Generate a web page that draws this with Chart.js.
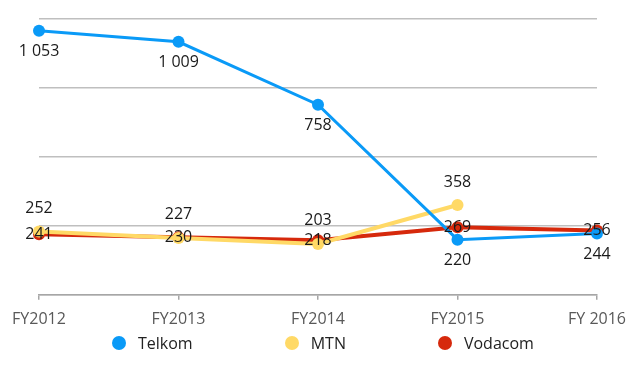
<!DOCTYPE html>
<html>
<head>
<meta charset="utf-8">
<script src="https://cdn.jsdelivr.net/npm/chart.js@4/dist/chart.umd.min.js"></script>
<style>
  html, body { margin: 0; padding: 0; background: #fff; }
  #wrap { position: relative; width: 640px; height: 375px; }
  #legend {
    position: absolute; left: 112px; top: 333px;
    display: flex; gap: 92px;
    font: 16px "Open Sans", sans-serif; color: #222;
  }
  #legend .item { display: flex; align-items: center; height: 20px; }
  #legend .dot { width: 14px; height: 14px; border-radius: 50%; margin-right: 12px; }
</style>
</head>
<body>
<div id="wrap">
  <canvas id="chart" width="640" height="375"></canvas>
  <div id="legend"></div>
</div>
<script>
const categories = ["FY2012", "FY2013", "FY2014", "FY2015", "FY 2016"];
const seriesNames = ["Telkom", "MTN", "Vodacom"];
const telkom = [1053, 1009, 758, 220, 244];
const mtn = [252, 227, 203, 358, null];
const vodacom = [241, 230, 218, 269, 256];
const colors = ["#0a9af7", "#ffd966", "#d6290c"];
// where each series puts its value label: below, above, on the point
const labelOffsets = [21, -23, 0];

const fmt = v => String(v).replace(/\B(?=(\d{3})+(?!\d))/g, " ");

const valueLabels = {
  id: "valueLabels",
  afterDatasetsDraw(chart) {
    const ctx = chart.ctx;
    ctx.save();
    ctx.font = '16px "Open Sans", sans-serif';
    ctx.fillStyle = "#1a1a1a";
    ctx.textAlign = "center";
    ctx.textBaseline = "middle";
    chart.data.datasets.forEach((ds, i) => {
      chart.getDatasetMeta(i).data.forEach((pt, j) => {
        const v = ds.data[j];
        if (v == null) return;
        ctx.fillText(fmt(v), pt.x, pt.y + labelOffsets[i]);
      });
    });
    ctx.restore();
  }
};

const widths = [3, 4, 4];
const datasets = [telkom, mtn, vodacom].map((d, i) => ({
  label: seriesNames[i],
  data: d,
  borderColor: colors[i],
  backgroundColor: colors[i],
  borderWidth: widths[i],
  pointRadius: 6,
  pointHoverRadius: 6,
  pointBorderWidth: 0,
  tension: 0,
  clip: false
}));

new Chart(document.getElementById("chart").getContext("2d"), {
  type: "line",
  data: { labels: categories, datasets: datasets },
  options: {
    responsive: false,
    animation: false,
    layout: { padding: { left: 39, right: 43, top: 19, bottom: 36 } },
    plugins: { legend: { display: false }, tooltip: { enabled: false } },
    scales: {
      x: {
        offset: false,
        grid: { drawOnChartArea: false, drawTicks: true, tickLength: 5, color: "#a6a6a6", lineWidth: 1.5 },
        border: { display: true, color: "#a6a6a6", width: 1.5 },
        ticks: { padding: 10, color: "#595959", font: { family: "Open Sans", size: 16 }, maxRotation: 0 }
      },
      y: {
        min: 0,
        max: 1100,
        ticks: { display: false, stepSize: 275 },
        grid: { drawTicks: false, color: "#bfbfbf", lineWidth: 1.5 },
        border: { display: false }
      }
    }
  },
  plugins: [valueLabels]
});

const legend = document.getElementById("legend");
seriesNames.forEach((name, i) => {
  const item = document.createElement("div");
  item.className = "item";
  const dot = document.createElement("span");
  dot.className = "dot";
  dot.style.background = colors[i];
  const txt = document.createElement("span");
  txt.textContent = name;
  item.appendChild(dot);
  item.appendChild(txt);
  legend.appendChild(item);
});
</script>
</body>
</html>
